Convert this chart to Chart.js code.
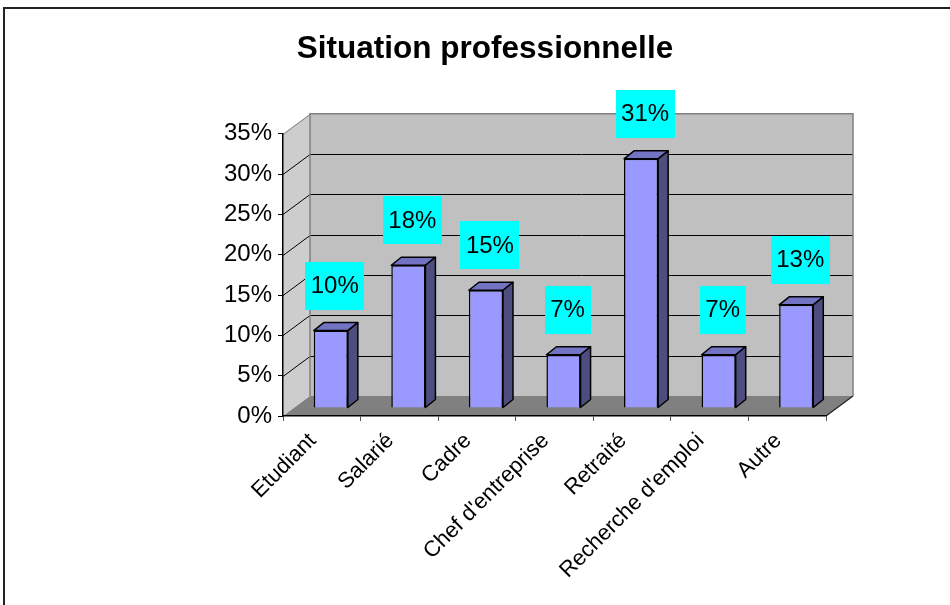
<!DOCTYPE html>
<html>
<head>
<meta charset="utf-8">
<script src="https://cdn.jsdelivr.net/npm/chart.js@4.4.1/dist/chart.umd.min.js"></script>
<style>
  html, body { margin: 0; padding: 0; background: #fff; }
  canvas { display: block; }
</style>
</head>
<body>
<canvas id="chart" width="950" height="605"></canvas>
<script>
const categories = ["Etudiant", "Salarié", "Cadre", "Chef d'entreprise", "Retraité", "Recherche d'emploi", "Autre"];
const shares = [9.6, 17.7, 14.6, 6.6, 30.9, 6.6, 12.8];
const yTicks = [0, 5, 10, 15, 20, 25, 30, 35];

const FONT = '"Liberation Sans", Arial, sans-serif';
const WALL = { dx: 27, dy: -20 };   // depth of the back wall
const BAR_SHIFT = { dx: 9, dy: -8 }; // bars sit a little into the floor
const BAR_DEPTH = { dx: 10, dy: -8 };

// walls, floor and back gridlines of the fake 3D box
const wallsPlugin = {
  id: "walls",
  beforeDraw(chart) {
    const { ctx, chartArea: a, scales } = chart;
    const L = a.left, R = a.right, T = a.top, B = a.bottom;
    const dx = WALL.dx, dy = WALL.dy;
    ctx.save();

    // frame around the whole picture
    ctx.strokeStyle = "#222";
    ctx.lineWidth = 2;
    ctx.strokeRect(4, 8, 1000, 1000);

    // left wall
    ctx.fillStyle = "#cdcdcd";
    ctx.beginPath();
    ctx.moveTo(L, T); ctx.lineTo(L + dx, T + dy); ctx.lineTo(L + dx, B + dy); ctx.lineTo(L, B);
    ctx.closePath(); ctx.fill();

    // back wall
    ctx.fillStyle = "#c0c0c0";
    ctx.fillRect(L + dx, T + dy, R - L, B - T);

    // floor
    ctx.fillStyle = "#808080";
    ctx.beginPath();
    ctx.moveTo(L, B); ctx.lineTo(R, B); ctx.lineTo(R + dx, B + dy); ctx.lineTo(L + dx, B + dy);
    ctx.closePath(); ctx.fill();

    // gridlines
    ctx.lineWidth = 1;
    yTicks.forEach(v => {
      const y = Math.round(scales.y.getPixelForValue(v)) + 0.5;
      ctx.strokeStyle = "#000";
      if (v > 0 && v < 35) {
        ctx.beginPath();
        ctx.moveTo(L + dx, y + dy); ctx.lineTo(R + dx, y + dy);
        ctx.stroke();
      }
      if (v > 0) {
        ctx.strokeStyle = v === 35 ? "#808080" : "#000";
        ctx.beginPath();
        ctx.moveTo(L, y); ctx.lineTo(L + dx, y + dy);
        ctx.stroke();
      }
    });

    // wall edges
    ctx.strokeStyle = "#808080";
    ctx.lineWidth = 1.5;
    ctx.beginPath();
    ctx.moveTo(L + dx, B + dy); ctx.lineTo(L + dx, T + dy); ctx.lineTo(R + dx, T + dy); ctx.lineTo(R + dx, B + dy);
    ctx.stroke();

    // floor right edge
    ctx.strokeStyle = "#222";
    ctx.lineWidth = 1.2;
    ctx.beginPath();
    ctx.moveTo(R, B); ctx.lineTo(R + dx, B + dy);
    ctx.stroke();
    ctx.restore();
  }
};

// push bars into the floor and give them a top and a side
const bars3dPlugin = {
  id: "bars3d",
  beforeDatasetsDraw(chart) {
    chart.ctx.save();
    chart.ctx.translate(BAR_SHIFT.dx, BAR_SHIFT.dy);
  },
  afterDatasetsDraw(chart) {
    const ctx = chart.ctx;
    const meta = chart.getDatasetMeta(0);
    const dx = BAR_DEPTH.dx, dy = BAR_DEPTH.dy;
    ctx.lineWidth = 1.5;
    ctx.strokeStyle = "#000";
    ctx.lineJoin = "round";
    meta.data.forEach(bar => {
      const { x, y, base, width } = bar.getProps(["x", "y", "base", "width"], true);
      const l = x - width / 2, r = x + width / 2;
      // top face
      ctx.fillStyle = "#7373c4";
      ctx.beginPath();
      ctx.moveTo(l, y); ctx.lineTo(l + dx, y + dy); ctx.lineTo(r + dx, y + dy); ctx.lineTo(r, y);
      ctx.closePath(); ctx.fill(); ctx.stroke();
      // side face
      ctx.fillStyle = "#4d4d80";
      ctx.beginPath();
      ctx.moveTo(r, y); ctx.lineTo(r + dx, y + dy); ctx.lineTo(r + dx, base + dy); ctx.lineTo(r, base);
      ctx.closePath(); ctx.fill(); ctx.stroke();
    });
    ctx.restore();

    // value labels in cyan boxes
    ctx.save();
    ctx.font = "24px " + FONT;
    ctx.textAlign = "center";
    ctx.textBaseline = "middle";
    meta.data.forEach((bar, i) => {
      const txt = Math.round(shares[i]) + "%";
      const cx = bar.x + BAR_SHIFT.dx + 4;
      const cy = bar.y + BAR_SHIFT.dy - 45;
      const w = ctx.measureText(txt).width + 11;
      const h = 48;
      ctx.fillStyle = "#00ffff";
      ctx.fillRect(Math.round(cx - w / 2), Math.round(cy - h / 2), Math.round(w), h);
      ctx.fillStyle = "#000";
      ctx.fillText(txt, cx, cy + 1);
    });
    ctx.restore();
  }
};

new Chart(document.getElementById("chart"), {
  type: "bar",
  data: {
    labels: categories,
    datasets: [{
      data: shares,
      backgroundColor: "#9999ff",
      borderColor: "#000",
      borderWidth: 1.5,
      categoryPercentage: 1,
      barPercentage: 0.44
    }]
  },
  options: {
    responsive: false,
    animation: false,
    layout: { padding: { left: 20, right: 0, top: 0, bottom: 0 } },
    plugins: {
      legend: { display: false },
      tooltip: { enabled: false },
      title: {
        display: true,
        text: "Situation professionnelle",
        color: "#000",
        font: { family: FONT, size: 31.5, weight: "bold" },
        padding: { top: 30, bottom: 66 }
      }
    },
    scales: {
      y: {
        min: 0,
        max: 35,
        afterFit(scale) { scale.width = 263; },
        ticks: {
          stepSize: 5,
          color: "#000",
          padding: 6,
          font: { family: FONT, size: 24 },
          callback: v => v + "%"
        },
        grid: { drawOnChartArea: false, drawTicks: true, tickLength: 5, color: "#000" },
        border: { display: true, color: "#000", width: 1.5 }
      },
      // empty space on the right of the box
      spacer: {
        type: "linear",
        position: "right",
        display: true,
        afterFit(scale) { scale.width = 124; },
        ticks: { display: false },
        grid: { display: false },
        border: { display: false }
      },
      x: {
        afterFit(scale) { scale.height = 189; },
        ticks: {
          color: "#000",
          minRotation: 45,
          maxRotation: 45,
          autoSkip: false,
          padding: 7,
          labelOffset: -9,
          font: { family: FONT, size: 22 }
        },
        grid: { drawOnChartArea: false, drawTicks: true, tickLength: 5, color: "#555", offset: true },
        border: { display: true, color: "#000", width: 1.5 }
      }
    }
  },
  plugins: [wallsPlugin, bars3dPlugin]
});
</script>
</body>
</html>
